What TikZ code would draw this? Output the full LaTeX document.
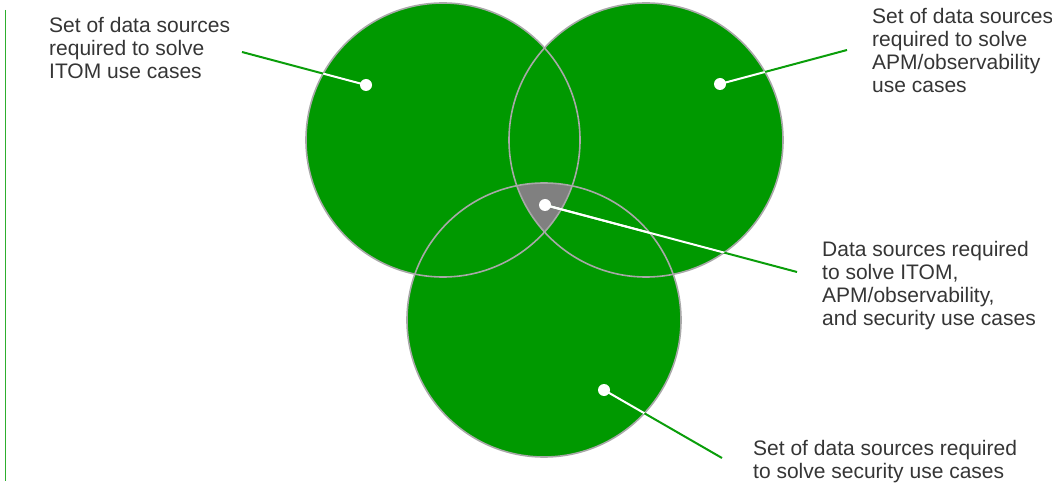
\documentclass[tikz,border=0pt]{standalone}
\usepackage{fontspec}
\setmainfont{Liberation Sans}
\definecolor{vgreen}{HTML}{009900}
\definecolor{vline}{HTML}{0A9E0A}
\definecolor{vrule}{HTML}{2EAE2E}
\definecolor{vedge}{HTML}{A8A8A8}
\definecolor{vcore}{HTML}{808080}
\definecolor{vtext}{HTML}{353535}
\begin{document}
\begin{tikzpicture}[x=1pt,y=-1pt,
  setfill/.style={fill=vgreen},
  setedge/.style={draw=vedge,line width=1.6pt},
  pin/.style={circle,fill=white,inner sep=0pt,minimum size=12pt},
  leader/.style={draw=vline,line width=2pt},
  leaderin/.style={draw=white,line width=2pt},
  lbl/.style={anchor=north west,inner sep=0pt,align=left,text=vtext,
    font=\fontsize{21}{23}\selectfont}]
\useasboundingbox (0,0) rectangle (1052,486);
% left rule
\draw[vrule,line width=1.8pt] (5.5,10) -- (5.5,481);
% circles
\coordinate (cA) at (443,140);
\coordinate (cB) at (646,140);
\coordinate (cC) at (544,320);
\def\R{137}
\fill[setfill] (cA) circle (\R);
\fill[setfill] (cB) circle (\R);
\fill[setfill] (cC) circle (\R);
\begin{scope}
  \clip (cA) circle (\R);
  \clip (cB) circle (\R);
  \fill[vcore] (cC) circle (\R);
\end{scope}
\draw[setedge] (cA) circle (\R);
\draw[setedge] (cB) circle (\R);
\draw[setedge] (cC) circle (\R);
% pins and leader ends
\coordinate (dA) at (366,85);
\coordinate (dB) at (720,84);
\coordinate (dM) at (545,205);
\coordinate (dC) at (604,390);
\coordinate (eA) at (242,52);
\coordinate (eB) at (847,50);
\coordinate (eM) at (797,272);
\coordinate (eC) at (722,458);
% leaders: green outside the sets, white inside
\foreach \d/\e in {dA/eA,dB/eB,dM/eM,dC/eC}{
  \draw[leader] (\d) -- (\e);
  \foreach \c in {cA,cB,cC}{
    \begin{scope}
      \clip (\c) circle (\R);
      \draw[leaderin] (\d) -- (\e);
    \end{scope}
  }
}
\node[pin] (pA) at (dA) {};
\node[pin] (pB) at (dB) {};
\node[pin] (pM) at (dM) {};
\node[pin] (pC) at (dC) {};
% labels
\node[lbl] (tA) at (49,17) {Set of data sources\\required to solve\\ITOM use cases};
\node[lbl] (tB) at (872,8) {Set of data sources\\required to solve\\APM/observability\\use cases};
\node[lbl] (tM) at (822,241) {Data sources required\\to solve ITOM,\\APM/observability,\\and security use cases};
\node[lbl] (tC) at (753,440) {Set of data sources required\\to solve security use cases};
\end{tikzpicture}
\end{document}
